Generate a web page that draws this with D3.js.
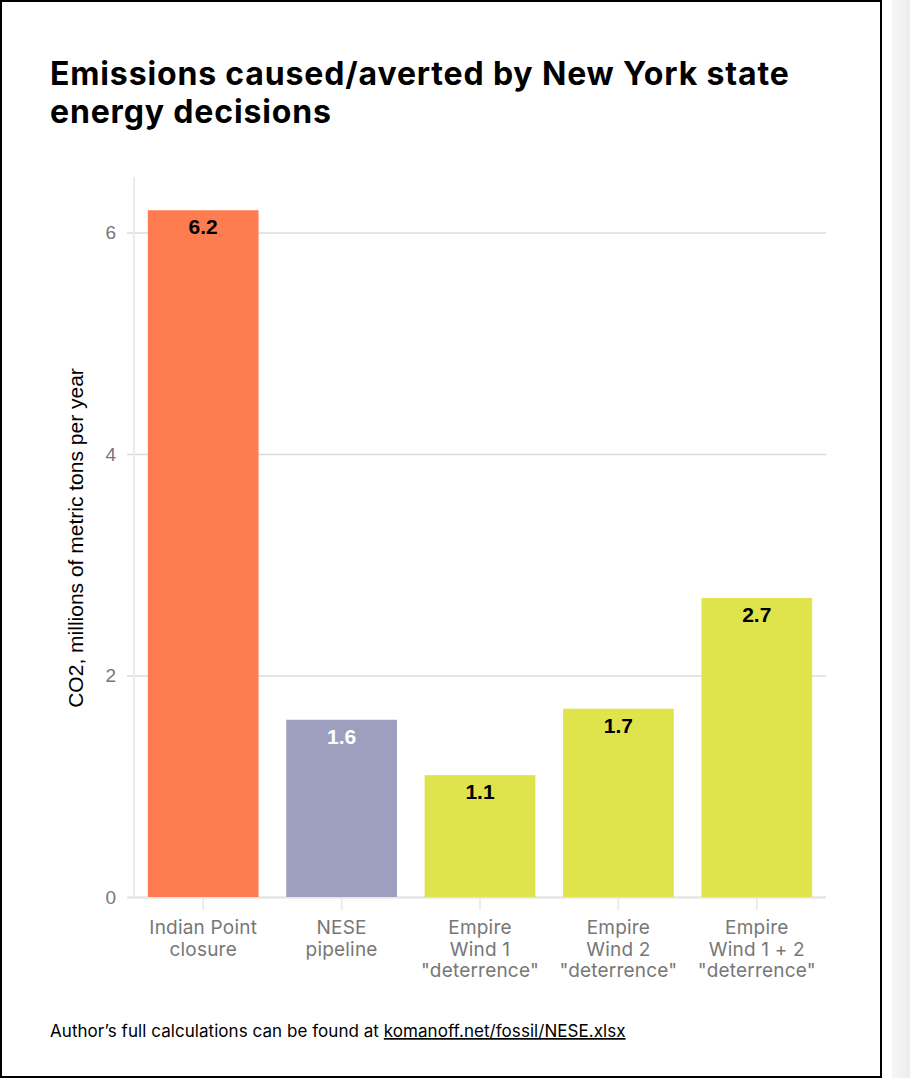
<!DOCTYPE html>
<html>
<head>
<meta charset="utf-8">
<script src="https://cdn.jsdelivr.net/npm/d3@7"></script>
<style>
  body { margin: 0; background: #fff; }
  svg { display: block; }
</style>
</head>
<body>
<div id="wrapper"></div>
<script>
// chart values
const categories = [
  ["Indian Point", "closure"],
  ["NESE", "pipeline"],
  ["Empire", "Wind 1", "\"deterrence\""],
  ["Empire", "Wind 2", "\"deterrence\""],
  ["Empire", "Wind 1 + 2", "\"deterrence\""]
];
const values = [6.2, 1.6, 1.1, 1.7, 2.7];
const valueLabels = ["6.2", "1.6", "1.1", "1.7", "2.7"];
const barColors = ["#ff7b50", "#9c9fbd", "#dfe44c", "#dfe44c", "#dfe44c"];
const labelColors = ["#000", "#fff", "#000", "#000", "#000"];
const yTicks = [0, 2, 4, 6];

const titleLines = ["Emissions caused/averted by New York state", "energy decisions"];
const yTitle = "CO2, millions of metric tons per year";

async function barChart() {
  const width = 910;
  const height = 1078;

  let dimensions = {
    width: width,
    height: height,
    margin: { top: 177, right: 84, bottom: 181, left: 134 }
  };
  dimensions.boundedWidth = dimensions.width - dimensions.margin.left - dimensions.margin.right;
  dimensions.boundedHeight = dimensions.height - dimensions.margin.top - dimensions.margin.bottom;

  const wrapper = d3.select("#wrapper")
    .append("svg")
      .attr("width", dimensions.width)
      .attr("height", dimensions.height);

  // page frame + grey scroll strip on the right
  const grad = wrapper.append("defs").append("linearGradient")
      .attr("id", "strip");
  grad.append("stop").attr("offset", "0%").attr("stop-color", "#f6f6f6");
  grad.append("stop").attr("offset", "100%").attr("stop-color", "#ececec");
  wrapper.append("rect")
      .attr("x", 892).attr("y", 0)
      .attr("width", 18).attr("height", height)
      .attr("fill", "url(#strip)");
  wrapper.append("rect")
      .attr("x", 1).attr("y", 1)
      .attr("width", 880).attr("height", 1076)
      .attr("fill", "#fff")
      .attr("stroke", "#000")
      .attr("stroke-width", 2);

  // title
  wrapper.append("text")
      .attr("x", 50)
      .attr("y", 85)
      .style("font-family", "Inter, sans-serif")
      .style("font-weight", 700)
      .style("font-size", "32px")
      .style("letter-spacing", "0.85px")
      .attr("fill", "#000")
    .selectAll("tspan")
    .data(titleLines)
    .join("tspan")
      .attr("x", 50)
      .attr("dy", (d, i) => i === 0 ? 0 : 37.5)
      .text(d => d);

  const bounds = wrapper.append("g")
      .attr("transform", `translate(${dimensions.margin.left}, ${dimensions.margin.top})`);

  const xScale = d3.scaleBand()
      .domain(d3.range(values.length))
      .range([0, dimensions.boundedWidth])
      .paddingInner(0.2)
      .paddingOuter(0.1);

  const yScale = d3.scaleLinear()
      .domain([0, 6.5])
      .range([dimensions.boundedHeight, 0]);

  // y axis with gridlines
  const yAxis = d3.axisLeft(yScale)
      .tickValues(yTicks)
      .tickSize(-dimensions.boundedWidth - 7)
      .tickPadding(11)
      .tickFormat(d3.format("d"));

  const yAxisG = bounds.append("g")
      .attr("transform", "translate(-7, 0)")
      .call(yAxis);
  yAxisG.select(".domain").remove();
  yAxisG.selectAll(".tick line")
      .attr("stroke", d => d === 0 ? "#e6e6e6" : "#dcdcdc")
      .attr("stroke-width", d => d === 0 ? 2.5 : 1.5);
  yAxisG.selectAll(".tick text")
      .attr("fill", "#777")
      .style("font-family", "'Liberation Sans', Arial, sans-serif")
      .style("font-size", "19px");

  // vertical axis line
  bounds.append("line")
      .attr("x1", 0).attr("x2", 0)
      .attr("y1", 0).attr("y2", dimensions.boundedHeight)
      .attr("stroke", "#ececec")
      .attr("stroke-width", 2);

  // bars
  bounds.selectAll("rect.bar")
    .data(values)
    .join("rect")
      .attr("class", "bar")
      .attr("x", (d, i) => xScale(i))
      .attr("y", d => yScale(d))
      .attr("width", xScale.bandwidth())
      .attr("height", d => dimensions.boundedHeight - yScale(d))
      .attr("fill", (d, i) => barColors[i]);

  // bar value labels
  bounds.selectAll("text.val")
    .data(values)
    .join("text")
      .attr("class", "val")
      .attr("x", (d, i) => xScale(i) + xScale.bandwidth() / 2)
      .attr("y", d => yScale(d) + 24)
      .attr("text-anchor", "middle")
      .attr("fill", (d, i) => labelColors[i])
      .style("font-family", "'Liberation Sans', Arial, sans-serif")
      .style("font-weight", 700)
      .style("font-size", "21px")
      .text((d, i) => valueLabels[i]);

  // x axis ticks + multi-line labels
  const xAxis = d3.axisBottom(xScale)
      .tickSize(12)
      .tickFormat("");
  const xAxisG = bounds.append("g")
      .attr("transform", `translate(0, ${dimensions.boundedHeight + 1})`)
      .call(xAxis);
  xAxisG.select(".domain").remove();
  xAxisG.selectAll(".tick line")
      .attr("stroke", "#e6e6e6")
      .attr("stroke-width", 1.5);

  xAxisG.selectAll(".tick")
    .append("text")
      .attr("text-anchor", "middle")
      .attr("fill", "#777")
      .style("font-family", "Inter, sans-serif")
      .style("font-size", "19px")
      .style("letter-spacing", "0.2px")
    .selectAll("tspan")
    .data(i => categories[i])
    .join("tspan")
      .attr("x", 0)
      .attr("y", (d, j) => 36 + j * 21.5)
      .text(d => d);

  // y axis title
  wrapper.append("text")
      .attr("transform", "translate(83, 538) rotate(-90)")
      .attr("text-anchor", "middle")
      .attr("fill", "#000")
      .style("font-family", "'Liberation Sans', Arial, sans-serif")
      .style("font-size", "21px")
      .text(yTitle);

  // footer note
  const note = wrapper.append("text")
      .attr("x", 50)
      .attr("y", 1037)
      .attr("fill", "#000")
      .style("font-family", "Inter, sans-serif")
      .style("font-size", "17px")
      .style("letter-spacing", "0.05px");
  note.append("tspan").text("Author\u2019s full calculations can be found at ");
  note.append("tspan")
      .style("text-decoration", "underline")
      .text("komanoff.net/fossil/NESE.xlsx");
}

barChart();
</script>
</body>
</html>
